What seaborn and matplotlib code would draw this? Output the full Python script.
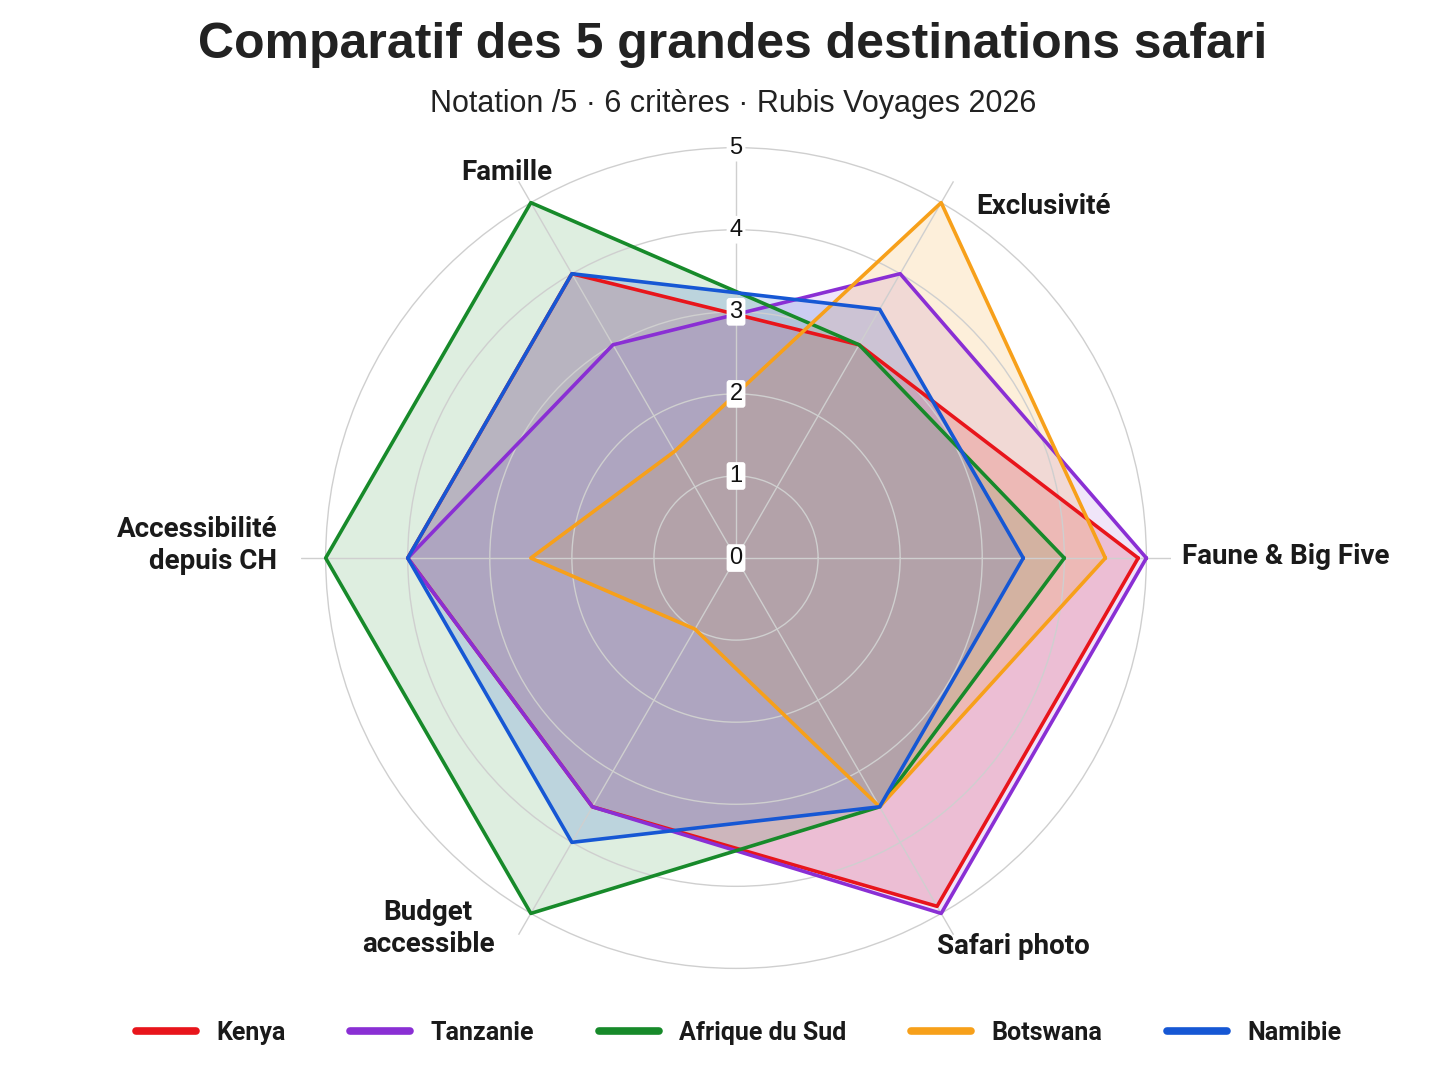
import numpy as np
import pandas as pd
import seaborn as sns
import matplotlib.pyplot as plt
from matplotlib.lines import Line2D

# Données (notes /5)
criteres = ["Faune & Big Five", "Exclusivité", "Famille",
            "Accessibilité\ndepuis CH", "Budget\naccessible", "Safari photo"]
pays = ["Kenya", "Tanzanie", "Afrique du Sud", "Botswana", "Namibie"]
kenya = [4.9, 3, 4, 4, 3.5, 4.9]
tanzanie = [5, 4, 3, 4, 3.5, 5]
afrique_sud = [4, 3, 5, 5, 5, 3.5]
botswana = [4.5, 5, 1.5, 2.5, 1, 3.5]
namibie = [3.5, 3.5, 4, 4, 4, 3.5]
notes_ticks = [0, 1, 2, 3, 4, 5]

couleurs = ["#e8151b", "#8a2fd4", "#178a2a", "#f7a01a", "#1657d4"]
alphas = [0.19, 0.12, 0.14, 0.16, 0.17]

sns.set_theme(style="white")
plt.rcParams["font.family"] = ["Roboto", "DejaVu Sans"]

angles = np.linspace(0, 2 * np.pi, len(criteres), endpoint=False)
angles_ferme = np.append(angles, 2 * np.pi)

fig = plt.figure(figsize=(14.48, 10.86), dpi=100)
ax = fig.add_axes([0.2079, 0.0856, 0.6008, 0.8011], projection="polar")

series = [kenya, tanzanie, afrique_sud, botswana, namibie]
for vals, c, a in zip(series, couleurs, alphas):
    v = np.append(vals, vals[0])
    df = pd.DataFrame({"angle": angles_ferme, "note": v})
    ax.fill(df["angle"], df["note"], color=c, alpha=a, zorder=1, linewidth=0)
    sns.lineplot(data=df, x="angle", y="note", sort=False, estimator=None,
                 color=c, linewidth=2.6, ax=ax, zorder=3)

ax.set_ylim(0, 5.3)
ax.set_yticks(notes_ticks[1:])
ax.set_yticklabels([])
ax.set_xticks(angles)
ax.set_xticklabels([])
ax.set_xlabel("")
ax.set_ylabel("")
ax.grid(True, color="#cfcfcf", linewidth=1.0)
ax.set_axisbelow(False)
ax.spines["polar"].set_visible(False)
ax.plot([np.pi / 2, np.pi / 2], [0, 5], color="#cfcfcf", linewidth=1.0, zorder=2.5)

# étiquettes des notes sur l'axe vertical
for n in notes_ticks:
    ax.text(np.pi / 2, n, str(n), ha="center", va="center", fontsize=17,
            color="#111111", zorder=5, family=["Liberation Sans", "DejaVu Sans"],
            bbox=dict(boxstyle="round,pad=0.12", fc="white", ec="none"))

# étiquettes des critères
decalages = [(26, 1), (74, -3), (-17, 22), (-35, 9), (-74, -11), (52, -24)]
alignements = ["left", "center", "center", "right", "center", "center"]
for ang, lab, off, ha in zip(angles, criteres, decalages, alignements):
    ax.annotate(lab, xy=(ang, 5), xytext=off, textcoords="offset points",
                ha=ha, va="center", fontsize=20, fontweight="bold",
                color="#1a1a1a", multialignment=ha,
                linespacing=1.25, annotation_clip=False)

fig.text(0.506, 0.9586, "Comparatif des 5 grandes destinations safari",
         ha="center", va="center", fontsize=36, fontweight="bold",
         color="#222222", family=["Liberation Sans", "DejaVu Sans"])
fig.text(0.506, 0.904, "Notation /5 · 6 critères · Rubis Voyages 2026",
         ha="center", va="center", fontsize=22, color="#222222",
         family=["Liberation Sans", "DejaVu Sans"])

handles = [Line2D([0], [0], color=c, linewidth=5.5, solid_capstyle="round")
           for c in couleurs]
leg = fig.legend(handles, pays, loc="center", bbox_to_anchor=(0.51, 0.049),
                 ncol=5, frameon=False, handlelength=2.4, handletextpad=0.8,
                 columnspacing=2.6, prop={"size": 18, "weight": "bold"})
for t in leg.get_texts():
    t.set_color("#1a1a1a")

fig.savefig("out.png", dpi=100, facecolor="white")
